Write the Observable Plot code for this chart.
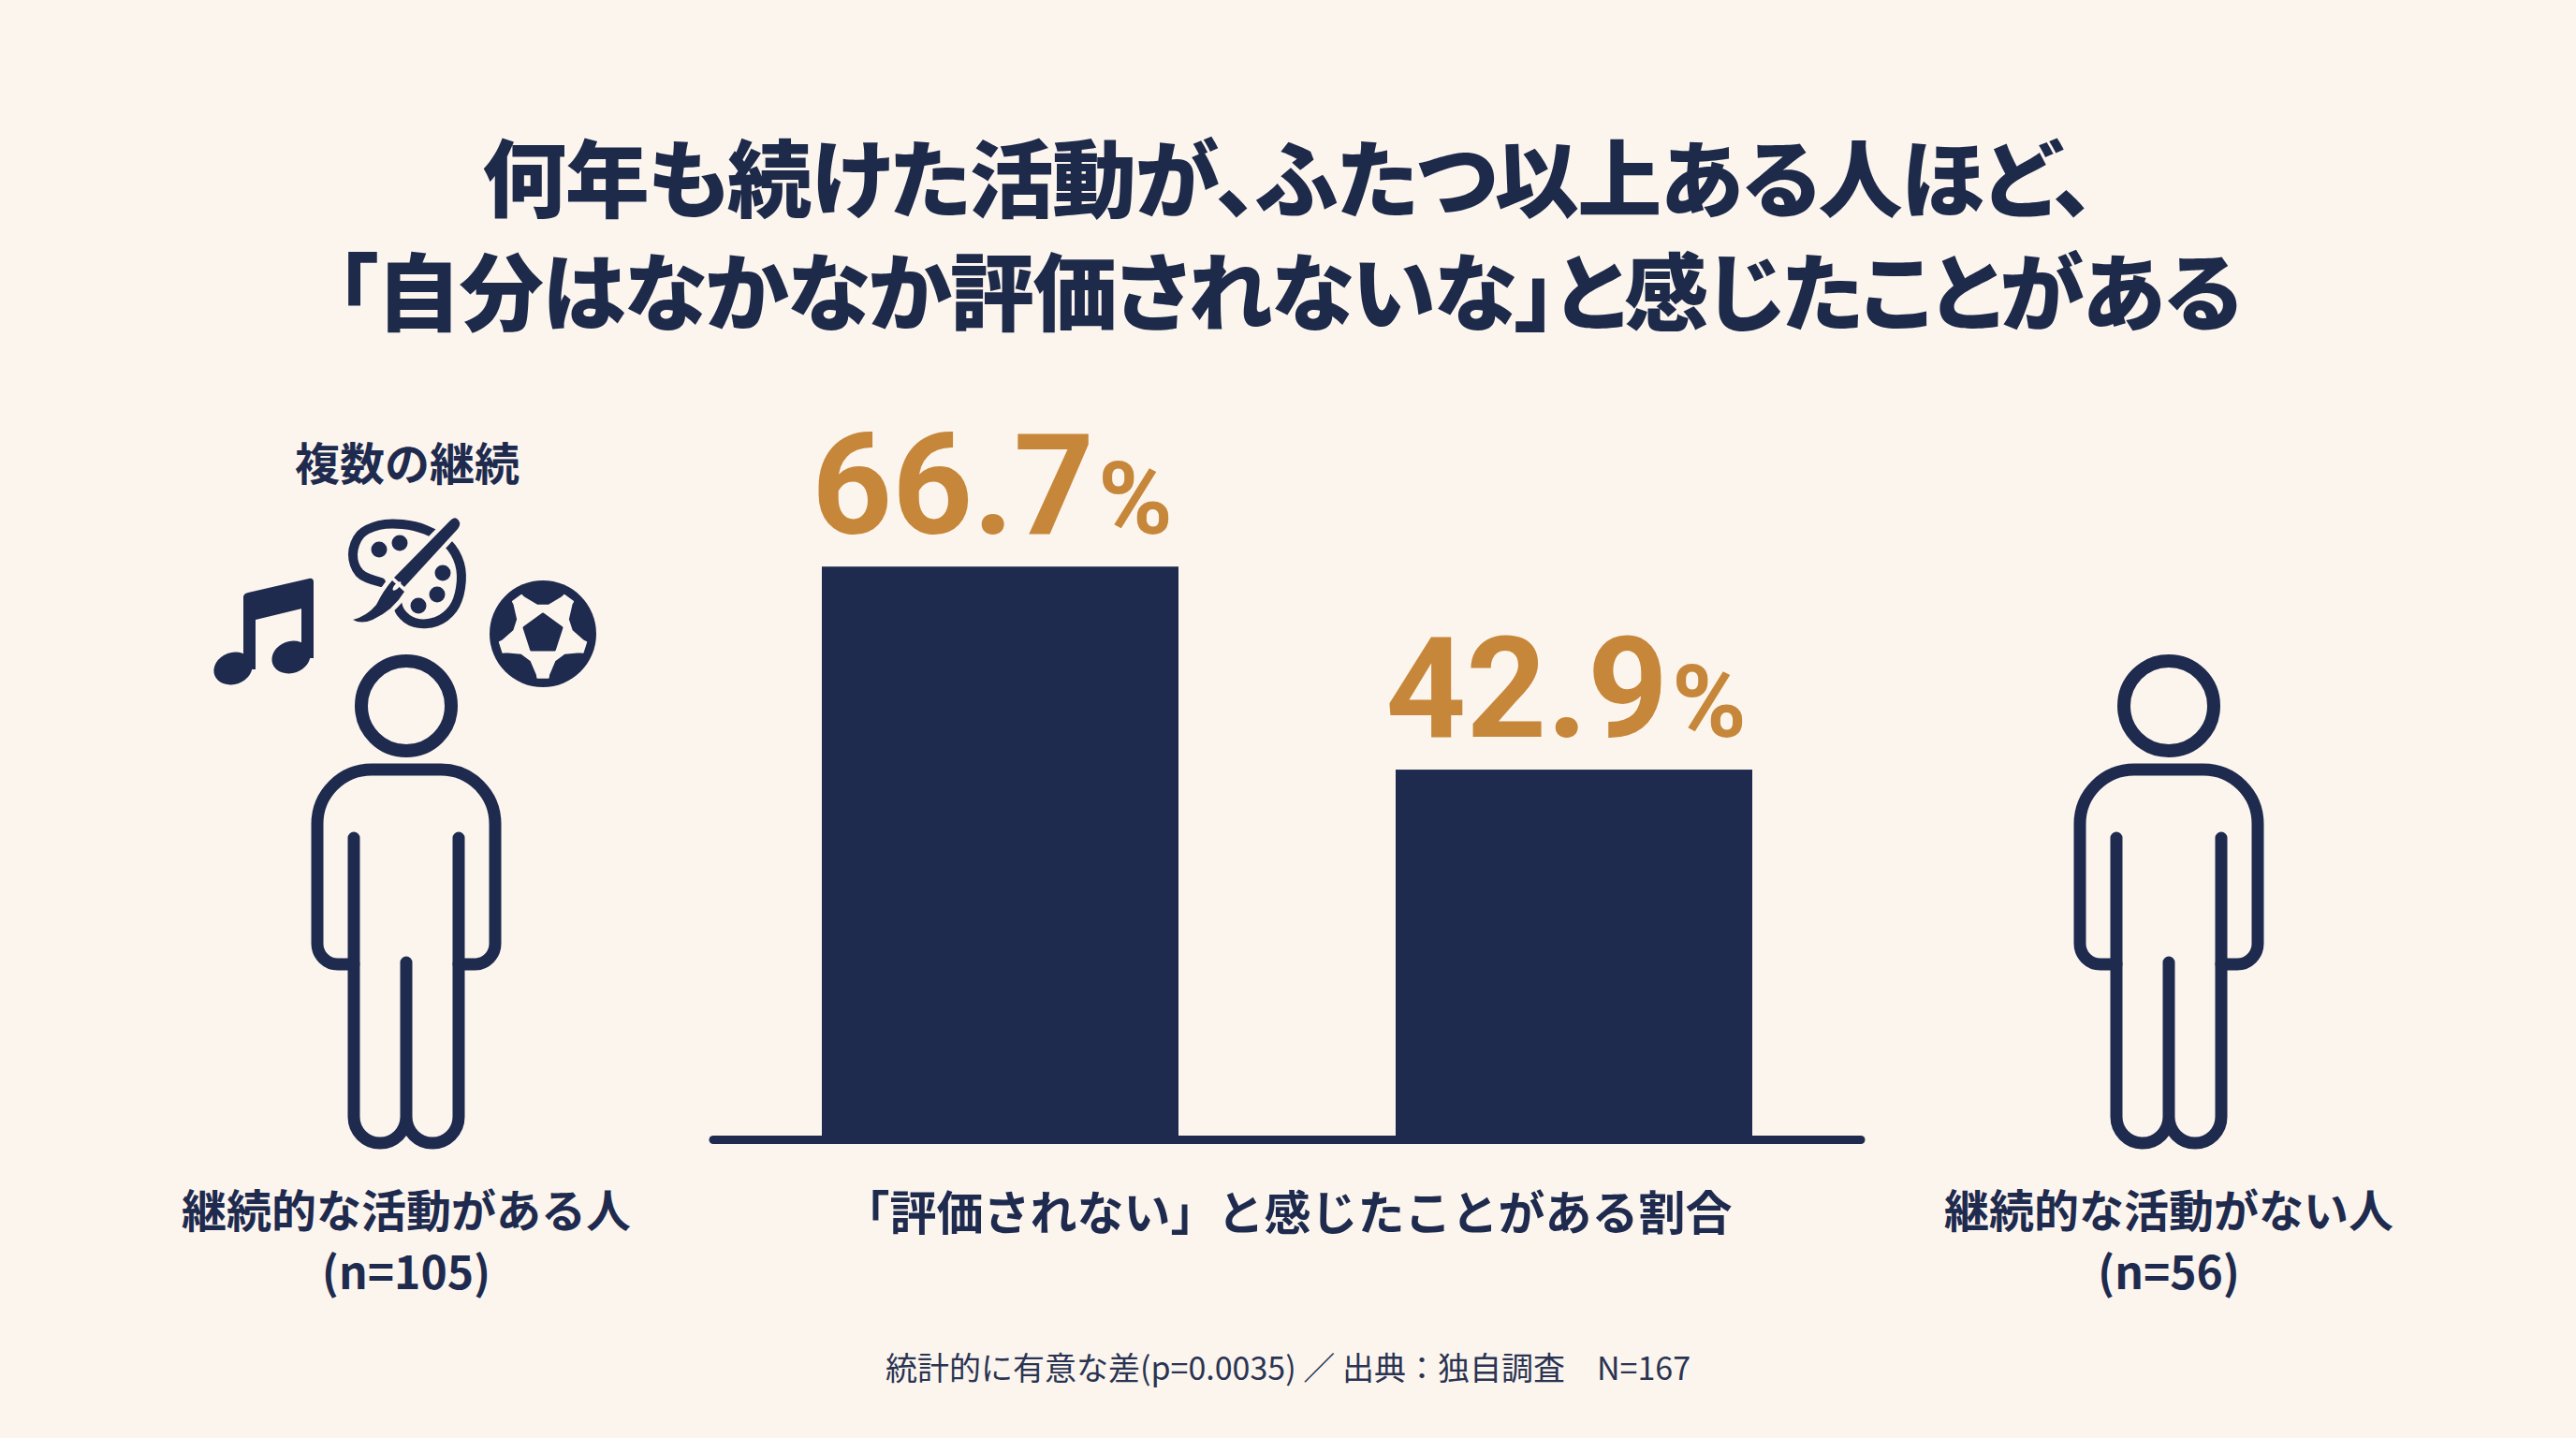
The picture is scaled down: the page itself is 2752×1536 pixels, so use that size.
<!DOCTYPE html>
<html lang="ja">
<head>
<meta charset="utf-8">
<script src="https://cdn.jsdelivr.net/npm/d3@7"></script>
<script src="https://cdn.jsdelivr.net/npm/@observablehq/plot@0.6"></script>
<style>
  html, body { margin: 0; padding: 0; background: #FCF5EE; overflow: hidden; }
  #page { position: relative; width: 2752px; height: 1536px; background: #FCF5EE; font-family: "Noto Sans CJK JP", "Noto Sans", sans-serif; color: #1E2A4A; }
  #title { position: absolute; left: 0; top: 126px; width: 2752px; text-align: center; font-size: 90px; font-weight: 900; line-height: 121px; font-feature-settings: "palt"; letter-spacing: -1.5px; }
  #chart { position: absolute; left: 0; top: 420px; }
  #overlay { position: absolute; left: 0; top: 0; pointer-events: none; }
  #caption { position: absolute; left: 0; top: 1436px; width: 2752px; text-align: center; font-size: 34px; font-weight: 400; line-height: 48px; color: #2A3452; }
</style>
</head>
<body>
<div id="page">
  <div id="title"></div>
  <div id="chart"></div>
  <div id="caption"></div>
</div>
<script>
// ---- data ----
const categories = ["継続的な活動がある人", "継続的な活動がない人"];
const sampleSizes = [105, 56];
const shares = [66.7, 42.9];
const titleLines = ["何年も続けた活動が、ふたつ以上ある人ほど、", "「自分はなかなか評価されないな」と感じたことがある"];
const axisLabel = "「評価されない」と感じたことがある割合";
const iconLabel = "複数の継続";
const caption = "統計的に有意な差(p=0.0035) ／ 出典：独自調査　N=167";

const NAVY = "#1F2B4E";
const GOLD = "#C7873A";
const BG = "#FCF5EE";

const data = categories.map((c, i) => ({category: c, n: sampleSizes[i], share: shares[i]}));

document.getElementById("title").innerHTML = titleLines.map(t => `<div>${t}</div>`).join("");
document.getElementById("caption").textContent = caption;

// ---- chart ----
const chart = Plot.plot({
  width: 2752,
  height: 1116,
  marginLeft: 762,
  marginRight: 764,
  marginTop: 64,
  marginBottom: 323,
  style: {background: "transparent", overflow: "visible"},
  x: {domain: categories, paddingInner: 0.378, paddingOuter: 0.1875, axis: null},
  y: {domain: [0, 80], axis: null},
  marks: [
    Plot.barY(data, {x: "category", y: "share", fill: NAVY}),
    Plot.ruleY([0], {stroke: NAVY, strokeWidth: 9, strokeLinecap: "round", dy: 4}),
    Plot.text(data, {x: "category", y: "share", text: d => d.share.toFixed(1), textAnchor: "end", lineAnchor: "bottom",
      dx: 100, dy: -36, fontSize: 150, fontWeight: 700, fontFamily: "Roboto", fill: GOLD}),
    Plot.text(data, {x: "category", y: "share", text: () => "%", textAnchor: "start", lineAnchor: "bottom",
      dx: 104, dy: -36, fontSize: 108, fontWeight: 700, fontFamily: "Roboto", fill: GOLD}),
    Plot.text([axisLabel], {frameAnchor: "bottom", lineAnchor: "bottom", dy: 100, fontSize: 50, fontWeight: 700,
      fontFamily: "Noto Sans CJK JP", fill: NAVY})
  ]
});
document.getElementById("chart").appendChild(chart);

// ---- decorative overlay: people and icons ----
const ov = d3.select("#page").append("svg").attr("id", "overlay").attr("width", 2752).attr("height", 1536);

const personX = [434, 2317];
function person(cx) {
  const g = ov.append("g").attr("fill", "none").attr("stroke", NAVY).attr("stroke-linecap", "round").attr("stroke-linejoin", "round");
  g.append("circle").attr("cx", cx).attr("cy", 754).attr("r", 48).attr("stroke-width", 14);
  g.append("path").attr("stroke-width", 13).attr("d",
    `M${cx-56},1030 L${cx-73},1030 A22,22 0 0 1 ${cx-95},1008 L${cx-95},880 A58,58 0 0 1 ${cx-37},822 L${cx+37},822 A58,58 0 0 1 ${cx+95},880 L${cx+95},1008 A22,22 0 0 1 ${cx+73},1030 L${cx+56},1030`);
  g.append("path").attr("stroke-width", 13).attr("d",
    `M${cx-56},895 L${cx-56},1193 A28,28 0 0 0 ${cx},1193 L${cx},1028 M${cx+56},895 L${cx+56},1193 A28,28 0 0 1 ${cx},1193`);
}
personX.forEach(person);

// person labels
categories.forEach((c, i) => {
  const t = ov.append("text").attr("x", personX[i]).attr("text-anchor", "middle").attr("fill", NAVY)
    .attr("font-family", "Noto Sans CJK JP").attr("font-weight", 700);
  t.append("tspan").attr("x", personX[i]).attr("y", 1311).attr("font-size", 48).text(c);
  t.append("tspan").attr("x", personX[i]).attr("y", 1377).attr("font-size", 48).text(`(n=${sampleSizes[i]})`);
});

// icon label
ov.append("text").attr("x", 435).attr("y", 513).attr("text-anchor", "middle").attr("fill", NAVY)
  .attr("font-family", "Noto Sans CJK JP").attr("font-weight", 700).attr("font-size", 48).text(iconLabel);

// music note
const mn = ov.append("g").attr("fill", NAVY);
mn.append("ellipse").attr("cx", 249).attr("cy", 714).attr("rx", 21).attr("ry", 17).attr("transform", "rotate(-20 249 714)");
mn.append("ellipse").attr("cx", 311).attr("cy", 702).attr("rx", 21).attr("ry", 17).attr("transform", "rotate(-20 311 702)");
mn.append("rect").attr("x", 260).attr("y", 637).attr("width", 13).attr("height", 78);
mn.append("rect").attr("x", 322).attr("y", 621).attr("width", 13).attr("height", 82);
mn.append("path").attr("d", "M260,638 Q260,634 265,633 L330,618 Q335,617 335,622 L335,647 L273,662 L260,664 Z");

// palette + brush
const pal = ov.append("g");
const palPts = [[407,622],[384,612],[377,592],[385,571],[405,561],[430,560],[455,566],[478,580],[491,602],[492,628],[484,650],[466,664],[443,665],[428,654],[423,638]];
pal.append("path").attr("d", d3.line().curve(d3.curveCatmullRom)(palPts)).attr("fill", "none").attr("stroke", NAVY)
  .attr("stroke-width", 10).attr("stroke-linecap", "round");
[[405,587,8.5],[427,580,8.5],[473,612,8.5],[467,635,8.5],[447,647,8.5]].forEach(([x,y,r]) =>
  pal.append("circle").attr("cx", x).attr("cy", y).attr("r", r).attr("fill", NAVY));
// brush with background halo
const brushD = "M488,554 Q494,558 489,565 L432,627 L421,617 L481,556 Q485,552 488,554 Z";
const bristleD = "M419,620 L432,632 Q420,652 398,662 Q386,667 377,662 Q392,658 402,646 Q410,630 419,620 Z";
pal.append("path").attr("d", brushD).attr("fill", NAVY).attr("stroke", BG).attr("stroke-width", 9).attr("stroke-linejoin", "round");
pal.append("path").attr("d", bristleD).attr("fill", NAVY).attr("stroke", BG).attr("stroke-width", 9).attr("stroke-linejoin", "round");
pal.append("path").attr("d", brushD).attr("fill", NAVY);
pal.append("path").attr("d", bristleD).attr("fill", NAVY);
pal.append("ellipse").attr("cx", 424).attr("cy", 626).attr("rx", 6).attr("ry", 2.5).attr("transform", "rotate(-47 424 626)").attr("fill", BG);

// soccer ball
const bx = 580, by = 677;
const P = (ang, r) => [bx + r * Math.cos(ang * Math.PI / 180), by + r * Math.sin(ang * Math.PI / 180)];
ov.append("circle").attr("cx", bx).attr("cy", by).attr("r", 57).attr("fill", NAVY);
const white = [];
for (let k = 0; k < 5; k++) {
  const a = -90 + 72 * k;
  white.push(P(a - 28, 44), P(a - 12, 31), P(a + 12, 31), P(a + 28, 44), P(a + 29, 47), P(a + 43, 47));
}
ov.append("polygon").attr("points", white.map(p => p.join(",")).join(" ")).attr("fill", BG).attr("stroke", BG).attr("stroke-width", 2).attr("stroke-linejoin", "round");
const pent = d3.range(5).map(k => P(-90 + 72 * k, 21));
ov.append("polygon").attr("points", pent.map(p => p.join(",")).join(" ")).attr("fill", NAVY).attr("stroke", NAVY).attr("stroke-width", 3).attr("stroke-linejoin", "round");
</script>
</body>
</html>
